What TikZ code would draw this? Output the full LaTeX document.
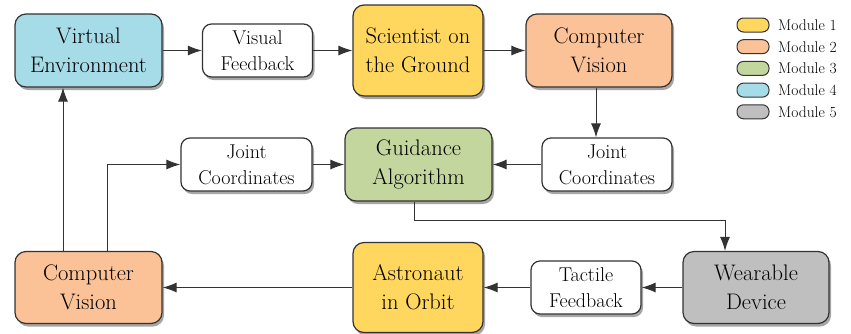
\documentclass[tikz,border=0pt]{standalone}
\usepackage{fontspec}
\usetikzlibrary{shadows,arrows.meta,calc}
\definecolor{cyanm}{HTML}{A6DCE7}
\definecolor{yellowm}{HTML}{FFD75E}
\definecolor{orangem}{HTML}{FBC297}
\definecolor{greenm}{HTML}{C3D69E}
\definecolor{graym}{HTML}{BFBFBF}
\definecolor{edgem}{HTML}{333333}
\tikzset{
  box/.style={draw=edgem, line width=1.2pt, rounded corners=11pt, align=center,
    font=\rmfamily\fontsize{22.5}{29}\selectfont, inner sep=0pt,
    drop shadow={shadow xshift=2pt, shadow yshift=-3pt, opacity=0.35, fill=black}},
  smallbox/.style={box, fill=white, rounded corners=9pt, font=\rmfamily\fontsize{20}{26}\selectfont},
  arr/.style={draw=edgem, line width=1pt, -{Latex[length=14pt,width=10pt]}},
  pill/.style={draw=edgem, line width=1pt, rounded corners=6.5pt, minimum width=32pt, minimum height=14pt, inner sep=0pt},
  legtext/.style={anchor=west, font=\rmfamily\fontsize{15.5}{18}\selectfont, inner sep=0pt}
}
\begin{document}
\begin{tikzpicture}[x=1pt,y=-1pt]
\useasboundingbox (0,0) rectangle (851,333);
% top row
\node[box, fill=cyanm, minimum width=147pt, minimum height=73pt] (VE) at (88.5,50.5) {Virtual\\Environment};
\node[smallbox, minimum width=110pt, minimum height=53pt] (VF) at (257.5,50.5) {Visual\\Feedback};
\node[box, fill=yellowm, minimum width=130pt, minimum height=91pt] (SG) at (418,50.5) {Scientist on\\the Ground};
\node[box, fill=orangem, minimum width=146pt, minimum height=73pt] (CV1) at (599,50.5) {Computer\\Vision};
% middle row
\node[smallbox, minimum width=131pt, minimum height=53pt] (JCL) at (246.5,164.5) {Joint\\Coordinates};
\node[box, fill=greenm, minimum width=147pt, minimum height=73pt] (GA) at (418.5,164.5) {Guidance\\Algorithm};
\node[smallbox, minimum width=130pt, minimum height=53pt] (JCR) at (607,164.5) {Joint\\Coordinates};
% bottom row
\node[box, fill=orangem, minimum width=147pt, minimum height=72pt] (CV2) at (88.5,287.5) {Computer\\Vision};
\node[box, fill=yellowm, minimum width=130pt, minimum height=90pt] (AO) at (418,287.5) {Astronaut\\in Orbit};
\node[smallbox, minimum width=110pt, minimum height=53pt] (TF) at (586,287.5) {Tactile\\Feedback};
\node[box, fill=graym, minimum width=146pt, minimum height=72pt] (WD) at (756,287.5) {Wearable\\Device};
% legend
\node[pill, fill=yellowm] (L1) at (753,25) {};
\node[pill, fill=orangem] (L2) at (753,46.7) {};
\node[pill, fill=greenm] (L3) at (753,68.4) {};
\node[pill, fill=cyanm] (L4) at (753,90.1) {};
\node[pill, fill=graym] (L5) at (753,111.8) {};
\node[legtext] (T1) at (778,25) {Module 1};
\node[legtext] (T2) at (778,46.7) {Module 2};
\node[legtext] (T3) at (778,68.4) {Module 3};
\node[legtext] (T4) at (778,90.1) {Module 4};
\node[legtext] (T5) at (778,111.8) {Module 5};
% connectors
\draw[arr] (VE) -- (VF);
\draw[arr] (VF) -- (SG);
\draw[arr] (SG) -- (CV1);
\draw[arr] ([xshift=-3pt]CV1.south) -- ([xshift=-3pt]CV1.south |- JCR.north);
\draw[arr] (JCR) -- (GA);
\draw[arr] (JCL) -- (GA);
\draw[arr] ([xshift=-25.5pt]CV2.north) -- ([xshift=-25.5pt]CV2.north |- VE.south);
\draw[arr] ([xshift=18.5pt]CV2.north) |- (JCL.west);
\draw[arr] ([xshift=-4.5pt]GA.south) -- ++(0,19) -| ([xshift=-31pt]WD.north);
\draw[arr] (WD) -- (TF);
\draw[arr] (TF) -- (AO);
\draw[arr] (AO) -- (CV2);
\end{tikzpicture}
\end{document}
